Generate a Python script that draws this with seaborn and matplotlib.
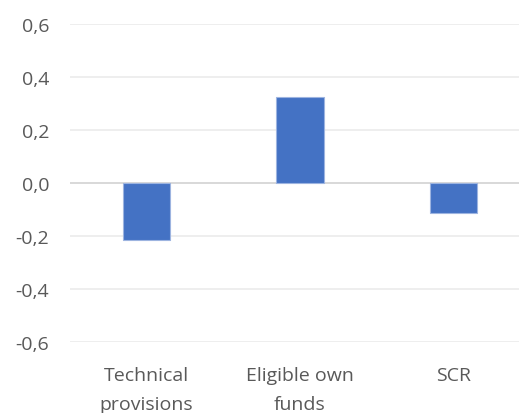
import matplotlib
matplotlib.use("Agg")
import matplotlib.pyplot as plt
from matplotlib.ticker import FuncFormatter
import seaborn as sns
import pandas as pd

categories = ["Technical\nprovisions", "Eligible own\nfunds", "SCR"]
values = [-0.215, 0.325, -0.115]
yticks = [-0.6, -0.4, -0.2, 0.0, 0.2, 0.4, 0.6]

sns.set_style("white")
plt.rcParams["font.family"] = ["Open Sans", "DejaVu Sans"]

df = pd.DataFrame({"category": categories, "value": values})

fig = plt.figure(figsize=(5.19, 4.14), dpi=100)
ax = fig.add_axes([70 / 519, 71 / 414, 460 / 519, 318 / 414])

sns.barplot(data=df, x="category", y="value", color="#4472C4", saturation=1,
            width=0.31, edgecolor="#9DB4E0", linewidth=0.8, ax=ax, zorder=3)

ax.set_ylim(-0.6, 0.6)
ax.set_yticks(yticks)
ax.yaxis.set_major_formatter(FuncFormatter(lambda v, _: f"{v:.1f}".replace(".", ",").replace("-0,0", "0,0")))
ax.set_xlim(-0.5, 2.5)
ax.set_axisbelow(True)
ax.grid(axis="y", color="#EBEBEB", linewidth=1.2)
ax.axhline(0, color="#D9D9D9", linewidth=1.4, zorder=1)
for s in ax.spines.values():
    s.set_visible(False)
ax.tick_params(axis="both", length=0, labelsize=14, colors="#595959")
ax.tick_params(axis="y", pad=15)
ax.tick_params(axis="x", pad=17)
ax.set_xlabel("")
ax.set_ylabel("")
for lbl in ax.get_xticklabels():
    lbl.set_linespacing(1.8)

fig.savefig("out.png", dpi=100)
